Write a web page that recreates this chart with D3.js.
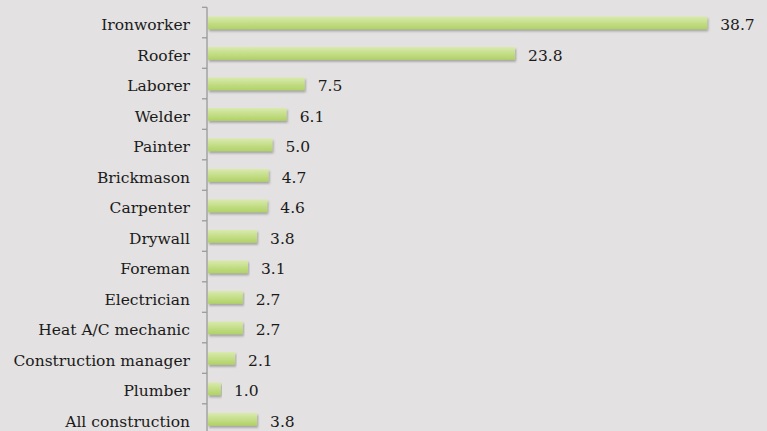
<!DOCTYPE html>
<html>
<head>
<meta charset="utf-8">
<script src="https://cdn.jsdelivr.net/npm/d3@7"></script>
<style>
  body { margin: 0; background: #e3e1e1; }
  svg { display: block; }
</style>
</head>
<body>
<div id="chart"></div>
<script>
// DATA
var trades = ["Ironworker", "Roofer", "Laborer", "Welder", "Painter", "Brickmason",
              "Carpenter", "Drywall", "Foreman", "Electrician", "Heat A/C mechanic",
              "Construction manager", "Plumber", "All construction"];
var rates = [38.7, 23.8, 7.5, 6.1, 5.0, 4.7, 4.6, 3.8, 3.1, 2.7, 2.7, 2.1, 1.0, 3.8];

// SIZES
var W = 767, H = 431;
var axisX = 207;
var top_y = 7.3, step = 30.5;
var fontSize = 15.5;

var svg = d3.select("#chart").append("svg")
    .attr("width", W).attr("height", H);

svg.append("rect").attr("width", W).attr("height", H).attr("fill", "#e3e1e1");

var defs = svg.append("defs");
var grad = defs.append("linearGradient").attr("id", "barGrad")
    .attr("x1", 0).attr("y1", 0).attr("x2", 0).attr("y2", 1);
grad.append("stop").attr("offset", "0%").attr("stop-color", "#d9eaae");
grad.append("stop").attr("offset", "100%").attr("stop-color", "#b0d264");

var shadow = defs.append("filter").attr("id", "shadow")
    .attr("x", "-5%").attr("y", "-40%").attr("width", "110%").attr("height", "200%");
shadow.append("feDropShadow")
    .attr("dx", 1).attr("dy", 2).attr("stdDeviation", 1.3)
    .attr("flood-color", "#555").attr("flood-opacity", 0.45);

var y = d3.scaleBand()
    .domain(trades)
    .range([top_y, top_y + step * trades.length])
    .paddingInner(0.58).paddingOuter(0.29);

var x = d3.scaleLinear().domain([0, 40]).range([axisX + 1, axisX + 1 + 516]);

// bars
svg.append("g").selectAll("rect")
  .data(trades)
  .join("rect")
    .attr("x", x(0))
    .attr("y", function(d) { return y(d) + 0.3; })
    .attr("width", function(d, i) { return x(rates[i]) - x(0); })
    .attr("height", y.bandwidth())
    .attr("fill", "url(#barGrad)")
    .attr("filter", "url(#shadow)");

// value labels
svg.append("g").selectAll("text")
  .data(trades)
  .join("text")
    .attr("x", function(d, i) { return x(rates[i]) + 13; })
    .attr("y", function(d) { return y(d) + y.bandwidth() / 2 + 7.5; })
    .attr("font-family", "'DejaVu Serif', serif")
    .attr("font-size", fontSize)
    .attr("fill", "#1a1a1a")
    .text(function(d, i) { return rates[i].toFixed(1); });

// category axis
var yAxis = d3.axisLeft(d3.scaleBand().domain(trades).range(y.range()))
    .tickSize(0).tickPadding(17);

var ax = svg.append("g")
    .attr("transform", "translate(" + axisX + ",0)")
    .call(yAxis);
ax.select(".domain").remove();
ax.selectAll("text")
    .attr("dy", null)
    .attr("y", 7.5)
    .attr("font-family", "'DejaVu Serif', serif")
    .attr("font-size", fontSize)
    .attr("fill", "#1a1a1a");

// axis line + boundary ticks
ax.append("line")
    .attr("x1", 0).attr("x2", 0)
    .attr("y1", top_y).attr("y2", top_y + step * trades.length)
    .attr("stroke", "#9a9a9a").attr("stroke-width", 1.3);
ax.selectAll(".bound")
  .data(d3.range(trades.length + 1))
  .join("line")
    .attr("class", "bound")
    .attr("x1", -5).attr("x2", 0)
    .attr("y1", function(i) { return top_y + i * step; })
    .attr("y2", function(i) { return top_y + i * step; })
    .attr("stroke", "#9a9a9a").attr("stroke-width", 1.3);
</script>
</body>
</html>
